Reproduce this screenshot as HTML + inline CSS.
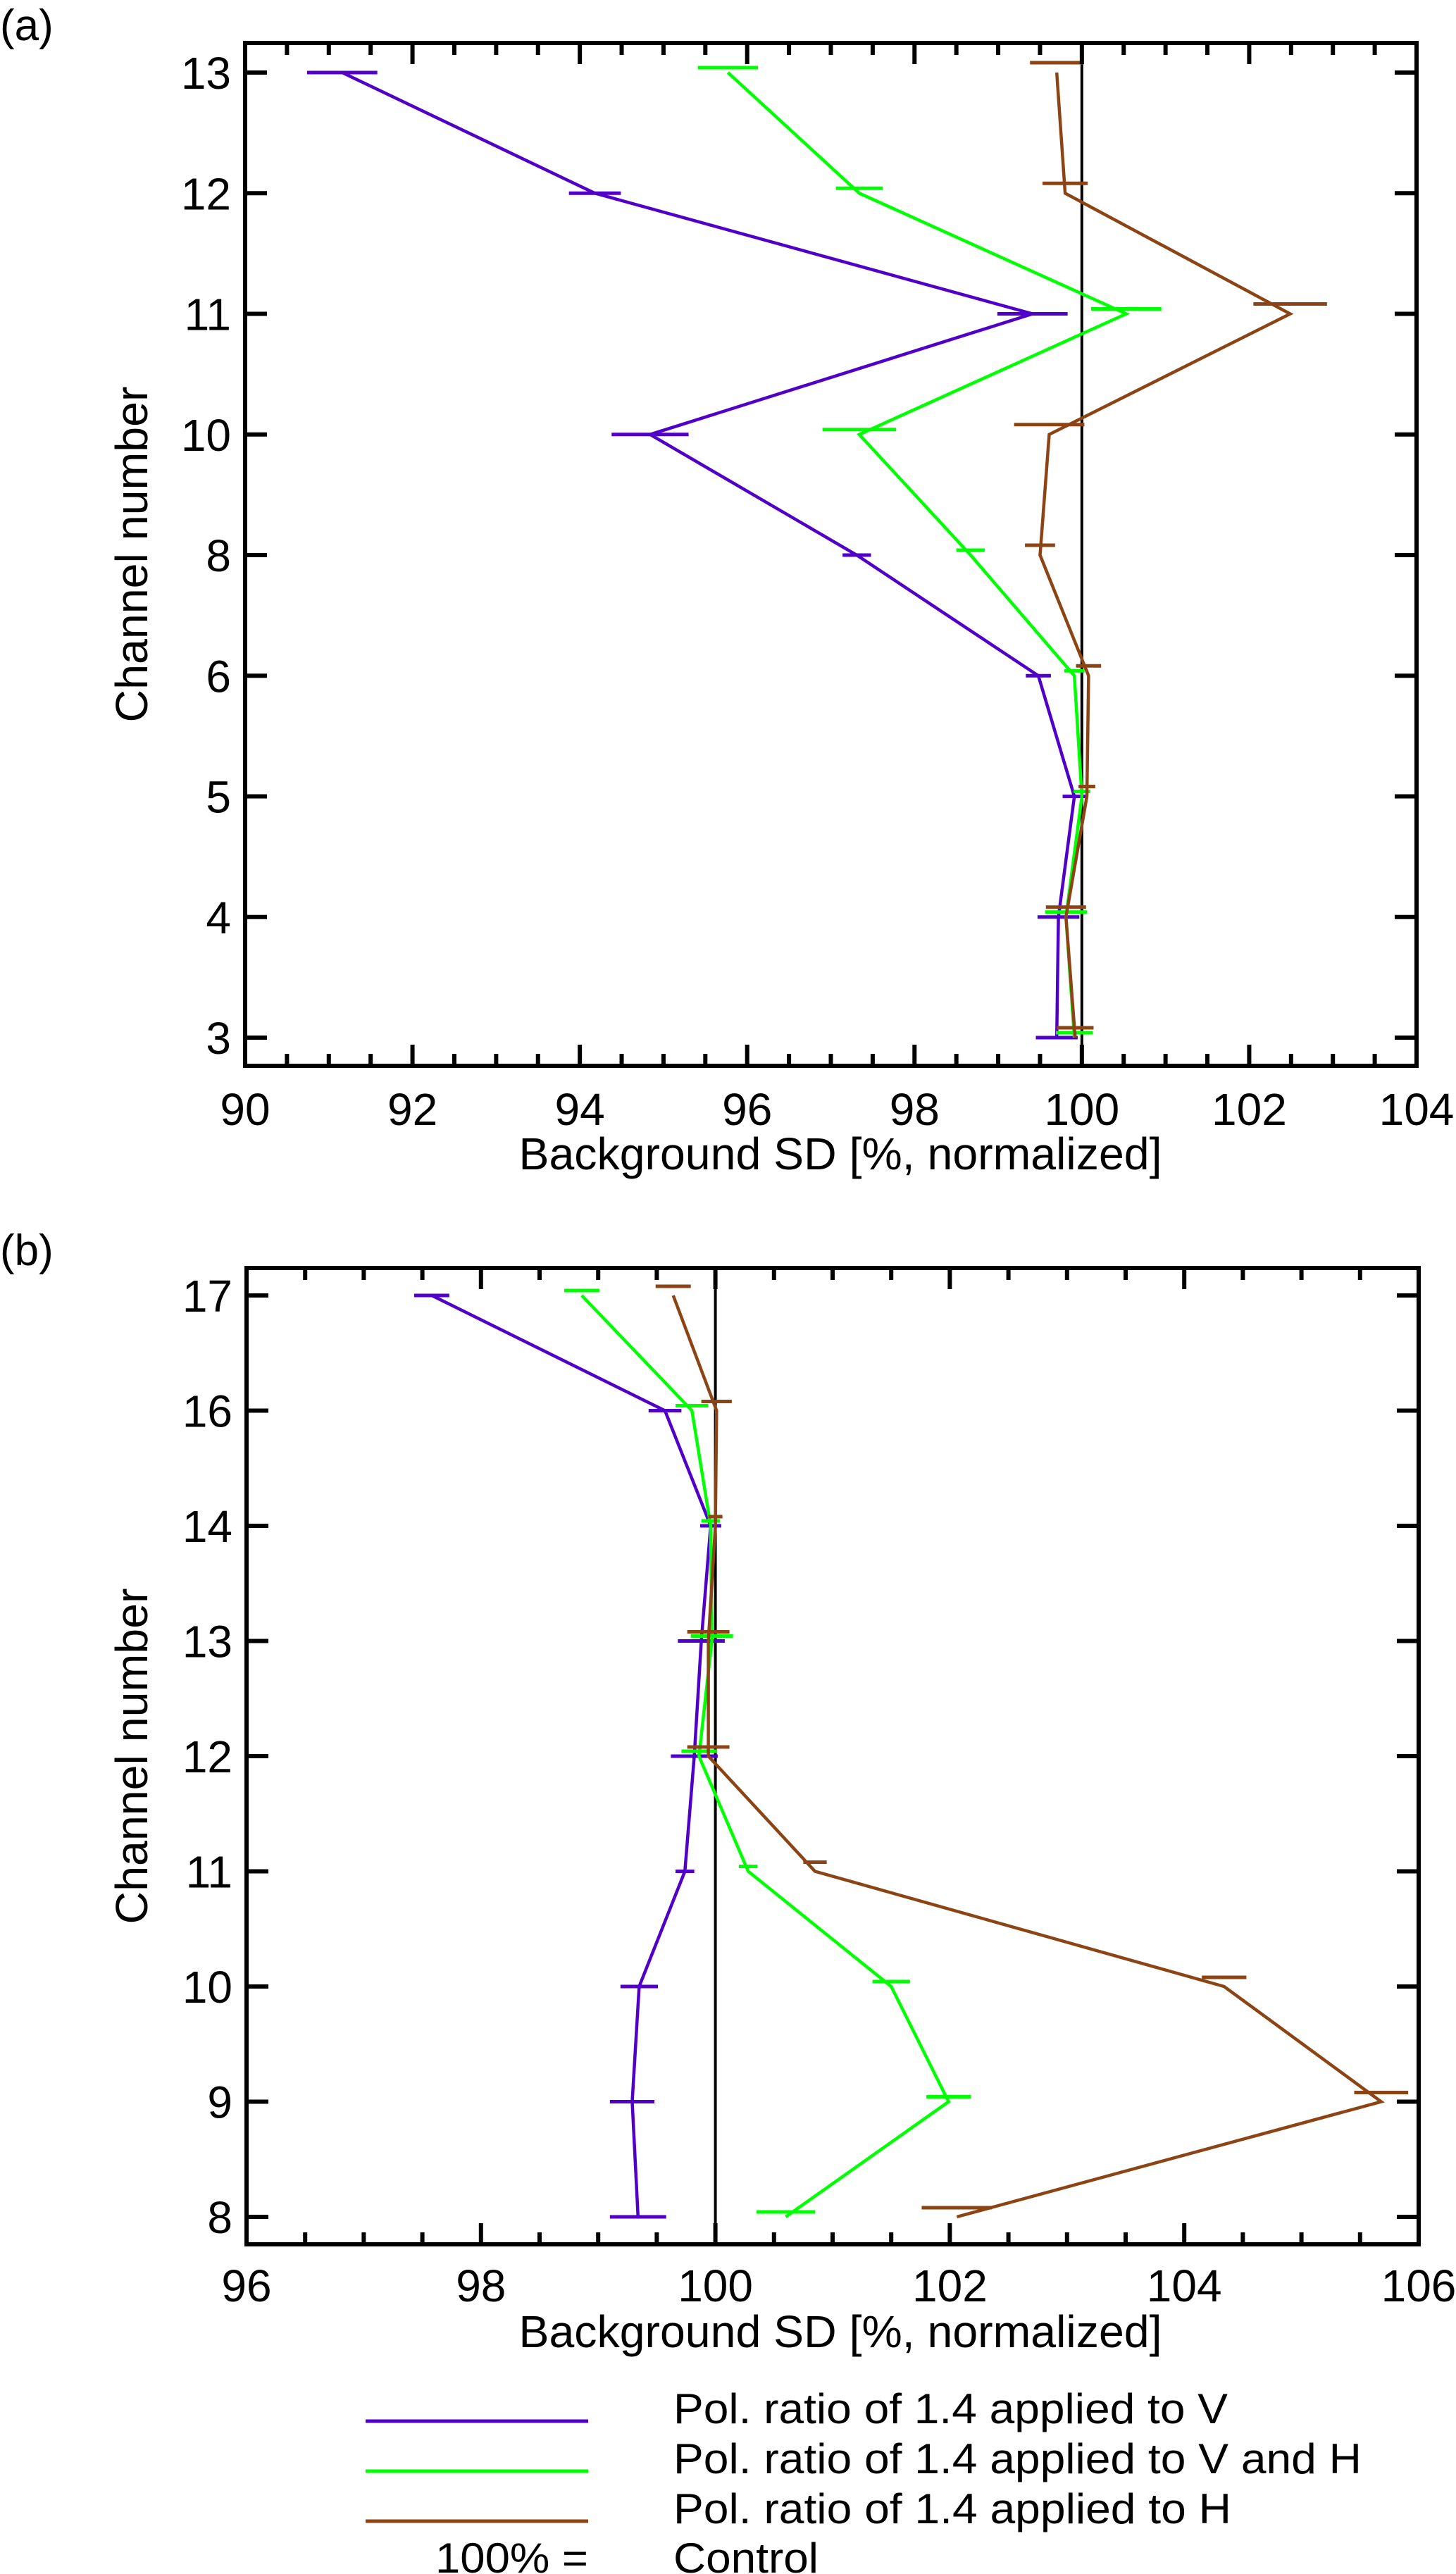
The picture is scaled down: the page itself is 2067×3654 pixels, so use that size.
<!DOCTYPE html>
<html><head><meta charset="utf-8">
<style>
html,body{margin:0;padding:0;background:#fff;}
svg{display:block;font-family:"Liberation Sans",sans-serif;}
</style></head>
<body>
<svg id="fig" width="2067" height="3654" viewBox="0 0 2067 3654" xmlns="http://www.w3.org/2000/svg">
<rect width="2067" height="3654" fill="#fff"/>
<g id="pa"></g>
<g id="pb"></g>
<g id="legend">
  <line x1="519" y1="3437" x2="835" y2="3437" stroke="#5000c8" stroke-width="5"/>
  <line x1="519" y1="3508" x2="835" y2="3508" stroke="#00ff00" stroke-width="5"/>
  <line x1="519" y1="3579" x2="835" y2="3579" stroke="#8c4414" stroke-width="5"/>
  <text x="956" y="3440" font-size="60" textLength="787" lengthAdjust="spacingAndGlyphs">Pol. ratio of 1.4 applied to V</text>
  <text x="956" y="3511" font-size="60" textLength="977" lengthAdjust="spacingAndGlyphs">Pol. ratio of 1.4 applied to V and H</text>
  <text x="956" y="3582" font-size="60" textLength="792" lengthAdjust="spacingAndGlyphs">Pol. ratio of 1.4 applied to H</text>
  <text x="618" y="3652" font-size="60" textLength="217" lengthAdjust="spacingAndGlyphs">100% =</text>
  <text x="956" y="3652" font-size="60" textLength="206" lengthAdjust="spacingAndGlyphs">Control</text>
</g>
</svg>
<script>
// ---- Panel (a) data ----
const aChannels = [13, 12, 11, 10, 8, 6, 5, 4, 3];
const aV  = [91.16, 94.18, 99.41, 94.84, 97.31, 99.48, 99.91, 99.72, 99.70];
const aVe = [0.42, 0.31, 0.42, 0.46, 0.17, 0.15, 0.14, 0.25, 0.25];
const aVH  = [95.77, 97.34, 100.53, 97.34, 98.67, 99.91, 100.00, 99.81, 99.91];
const aVHe = [0.36, 0.28, 0.42, 0.44, 0.17, 0.12, 0.10, 0.25, 0.22];
const aH  = [99.70, 99.80, 102.49, 99.61, 99.50, 100.08, 100.06, 99.81, 99.92];
const aHe = [0.32, 0.27, 0.44, 0.42, 0.18, 0.15, 0.10, 0.24, 0.22];
const aXTicks = [90, 92, 94, 96, 98, 100, 102, 104];
// ---- Panel (b) data ----
const bChannels = [17, 16, 14, 13, 12, 11, 10, 9, 8];
const bV  = [97.58, 99.57, 99.96, 99.88, 99.82, 99.74, 99.35, 99.29, 99.34];
const bVe = [0.15, 0.14, 0.09, 0.20, 0.20, 0.08, 0.16, 0.19, 0.24];
const bVH  = [98.86, 99.80, 99.96, 99.97, 99.86, 100.28, 101.50, 101.99, 100.60];
const bVHe = [0.15, 0.14, 0.08, 0.18, 0.15, 0.08, 0.16, 0.19, 0.25];
const bH  = [99.64, 100.01, 100.00, 99.94, 99.94, 100.85, 104.34, 105.68, 102.06];
const bHe = [0.15, 0.13, 0.06, 0.18, 0.18, 0.10, 0.19, 0.23, 0.30];
const bXTicks = [96, 98, 100, 102, 104, 106];
const controlValue = 100;

const NS = "http://www.w3.org/2000/svg";
function mk(parent, tag, attrs) {
  const e = document.createElementNS(NS, tag);
  for (const k in attrs) e.setAttribute(k, attrs[k]);
  parent.appendChild(e);
  return e;
}

function drawPanel(g, cfg) {
  const {L, R, T, B, yFirst, yLast, xmin, xmax, channels, series, xticks, label, labelY, tickLabelY, title} = cfg;
  const xs = v => L + (v - xmin) / (xmax - xmin) * (R - L);
  const ys = i => yFirst + i * (yLast - yFirst) / (channels.length - 1);

  // panel label
  const pl = mk(g, "text", {x: 0, y: T - 4, "font-size": 62});
  
  
  pl.textContent = label;

  // control line
  const cl = mk(g, "line", {x1: xs(controlValue), x2: xs(controlValue), y1: T, y2: B, stroke: "#000", "stroke-width": 4});
  
  

  // series
  series.forEach(s => {
    const sg = mk(g, "g", {});
    
    
    const pts = s.vals.map((v, i) => xs(v).toFixed(1) + "," + ys(i).toFixed(1)).join(" ");
    const pline = mk(sg, "polyline", {points: pts, fill: "none", stroke: s.color, "stroke-width": 4.5, "stroke-linejoin": "miter"});
    
    
    s.vals.forEach((v, i) => {
      const y = ys(i) + s.off;
      const eb = mk(sg, "line", {x1: xs(v - s.err[i]), x2: xs(v + s.err[i]), y1: y, y2: y, stroke: s.color, "stroke-width": 5});
      
      
    });
  });

  // axes frame
  const fr = mk(g, "rect", {x: L, y: T, width: R - L, height: B - T, fill: "none", stroke: "#000", "stroke-width": 6});
  
  

  // x ticks
  for (let v = xmin; v <= xmax + 1e-9; v += 0.5) {
    const major = Math.abs(v - Math.round(v / 2) * 2) < 1e-9 && xticks.includes(Math.round(v));
    const len = major ? 30 : 17;
    const x = xs(v);
    const t1 = mk(g, "line", {x1: x, x2: x, y1: B, y2: B - len, stroke: "#000", "stroke-width": 6});
    
    
    const t2 = mk(g, "line", {x1: x, x2: x, y1: T, y2: T + len, stroke: "#000", "stroke-width": 6});
    
    
  }
  xticks.forEach(v => {
    const t = mk(g, "text", {x: xs(v), y: tickLabelY, "font-size": 64, "text-anchor": "middle"});
    
    
    t.textContent = v;
  });
  // y ticks
  channels.forEach((c, i) => {
    const y = ys(i);
    const a = mk(g, "line", {x1: L, x2: L + 31, y1: y, y2: y, stroke: "#000", "stroke-width": 6});
    
    
    const b = mk(g, "line", {x1: R, x2: R - 31, y1: y, y2: y, stroke: "#000", "stroke-width": 6});
    
    
    const t = mk(g, "text", {x: L - 20, y: y + 23, "font-size": 64, "text-anchor": "end"});
    
    
    t.textContent = c;
  });
  // axis titles
  const xt = mk(g, "text", {x: 1193, y: labelY, "font-size": 64, "text-anchor": "middle", textLength: 913, lengthAdjust: "spacingAndGlyphs"});
  
  
  xt.textContent = "Background SD [%, normalized]";
  const cy = (T + B) / 2;
  const yt = mk(g, "text", {x: 209, y: cy, "font-size": 64, "text-anchor": "middle", transform: `rotate(-90 209 ${cy})`, textLength: 477, lengthAdjust: "spacingAndGlyphs"});
  
  
  yt.textContent = "Channel number";
}

drawPanel(document.getElementById("pa"), {
  L: 348, R: 2011, T: 61, B: 1513, yFirst: 103, yLast: 1473, xmin: 90, xmax: 104,
  channels: aChannels, xticks: aXTicks, label: "(a)", labelY: 1660, tickLabelY: 1597,
  series: [
    {name: "series-v", vals: aV, err: aVe, color: "#5000c8", off: 0},
    {name: "series-vh", vals: aVH, err: aVHe, color: "#00ff00", off: -7},
    {name: "series-h", vals: aH, err: aHe, color: "#8c4414", off: -14}
  ]
});
drawPanel(document.getElementById("pb"), {
  L: 350, R: 2014, T: 1800, B: 3186, yFirst: 1839, yLast: 3147, xmin: 96, xmax: 106,
  channels: bChannels, xticks: bXTicks, label: "(b)", labelY: 3332, tickLabelY: 3267,
  series: [
    {name: "series-v", vals: bV, err: bVe, color: "#5000c8", off: 0},
    {name: "series-vh", vals: bVH, err: bVHe, color: "#00ff00", off: -7},
    {name: "series-h", vals: bH, err: bHe, color: "#8c4414", off: -13}
  ]
});
</script>
</body></html>
